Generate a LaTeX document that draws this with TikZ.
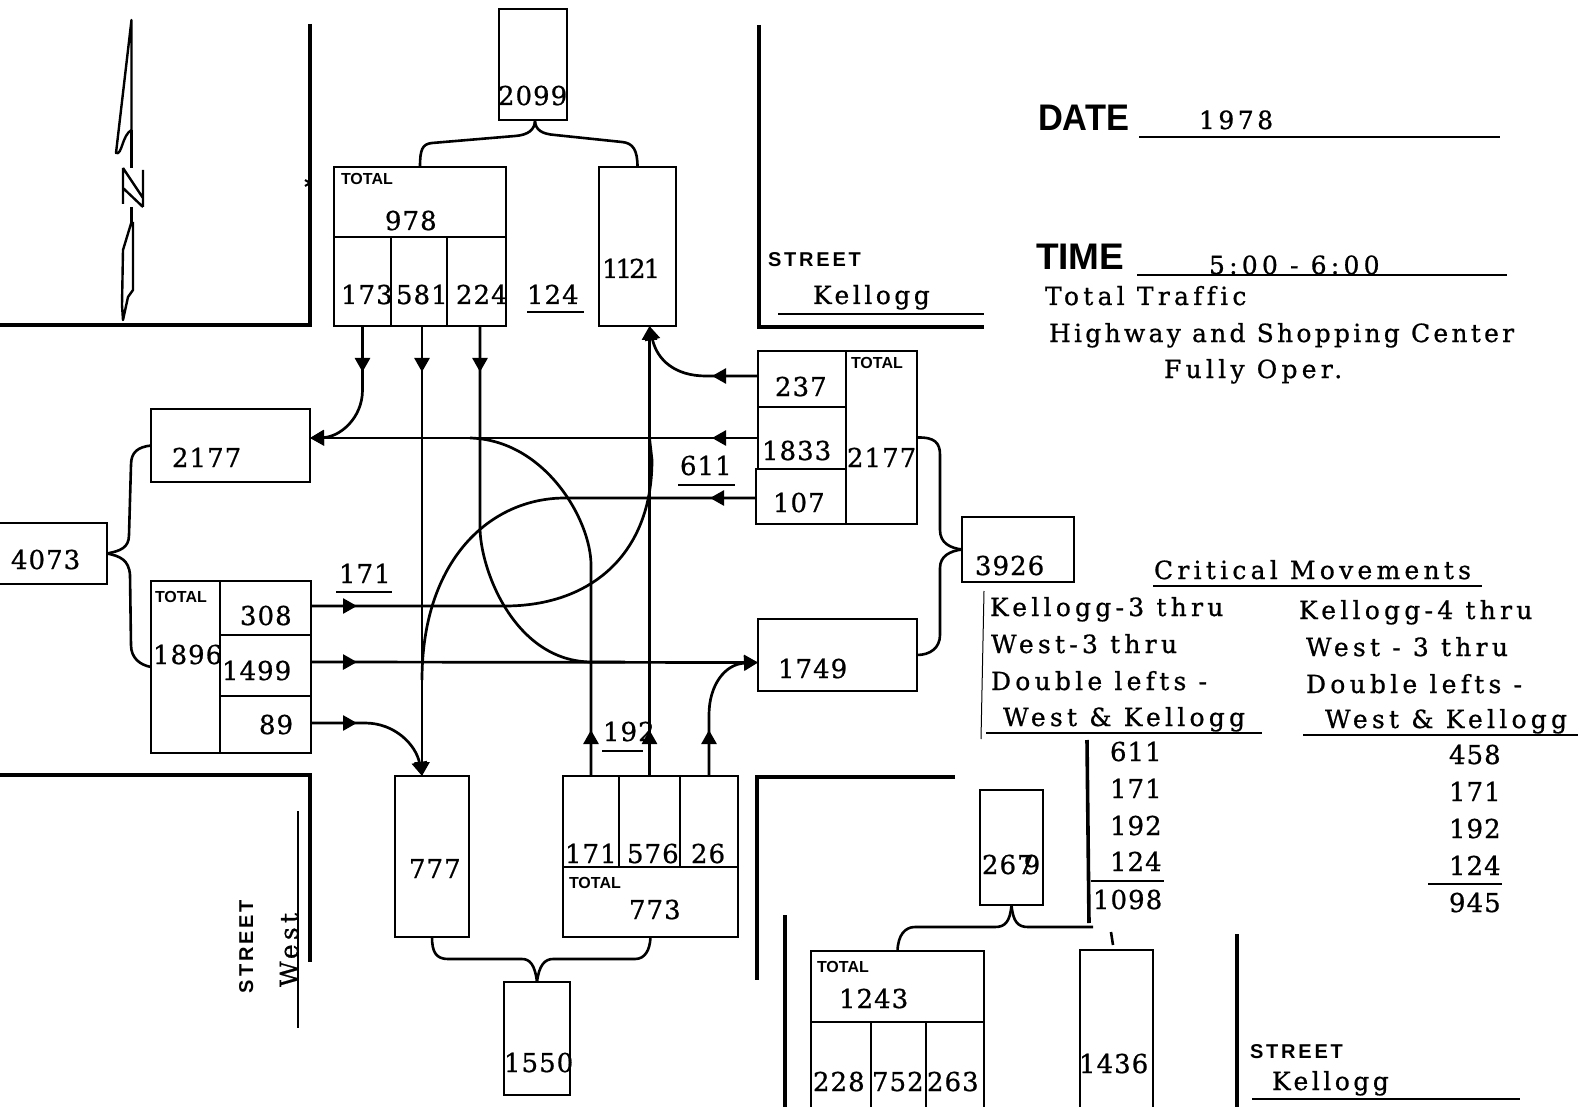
\documentclass[tikz,border=0pt]{standalone}
\usepackage{fontspec}
\usetikzlibrary{arrows.meta,decorations.markings}
\newfontfamily\fnum[LetterSpace=4,FakeBold=0.8]{DejaVu Serif}
\newfontfamily\ftxt[LetterSpace=14,FakeBold=0.8,Ligatures=NoCommon]{DejaVu Serif}
\newfontfamily\ftxtw[LetterSpace=17,FakeBold=0.8,Ligatures=NoCommon]{DejaVu Serif}
\newfontfamily\ftxtn[LetterSpace=13,FakeBold=0.8,Ligatures=NoCommon]{DejaVu Serif}
\newfontfamily\fsans[LetterSpace=14]{Liberation Sans}
\newfontfamily\fsanst{Liberation Sans}
\newfontfamily\fsansc[FakeStretch=0.93]{Liberation Sans}
\tikzset{
  boxn/.style={draw=black,line width=2.4pt,inner sep=0pt,outer sep=0pt},
  numlab/.style={inner sep=0pt,outer sep=0pt,anchor=base west,font=\fontsize{26}{26}\selectfont\fnum},
  txtlab/.style={inner sep=0pt,outer sep=0pt,anchor=base west,font=\fontsize{25}{25}\selectfont\ftxt},
  txtwlab/.style={txtlab,font=\fontsize{25}{25}\selectfont\ftxtw},
  txtnlab/.style={txtlab,font=\fontsize{25}{25}\selectfont\ftxtn},
  totlab/.style={inner sep=0pt,outer sep=0pt,anchor=base west,font=\fontsize{16}{16}\selectfont\fsanst\bfseries},
  strlab/.style={inner sep=0pt,outer sep=0pt,anchor=base west,font=\fontsize{20}{20}\selectfont\fsans\bfseries},
  biglab/.style={inner sep=0pt,outer sep=0pt,anchor=base west,font=\fontsize{37}{37}\selectfont\fsanst\bfseries},
  bigclab/.style={inner sep=0pt,outer sep=0pt,anchor=base west,font=\fontsize{37}{37}\selectfont\fsansc\bfseries},
  street/.style={line width=4.4pt},
  ulined/.style={line width=2.6pt},
  flow/.style={line width=2.7pt},
  headend/.style={-{Triangle[length=14pt,width=15pt]}},
  headat/.style={postaction={decorate},decoration={markings,mark=at position #1 with {\arrow{Triangle[length=14pt,width=15pt]}}}},
  brace/.style={line width=2.6pt}
}
\newcommand\cellbox[5]{\node[boxn,minimum width={(#4-#2)*1pt},minimum height={(#5-#3)*1pt}] (#1) at ({(#2+#4)/2},{(#3+#5)/2}) {};}
\newcommand\nm[4]{\node[numlab] (#1) at (#2,{#3-2}) {#4};}
\newcommand\tx[4]{\node[txtlab] (#1) at (#2,#3) {#4};}
\newcommand\txw[4]{\node[txtwlab] (#1) at (#2,#3) {#4};}
\newcommand\tot[3]{\node[totlab] (#1) at (#2,#3) {TOTAL};}
\begin{document}
\begin{tikzpicture}[x=1pt,y=-1pt]
\useasboundingbox (0,0) rectangle (1580,1107);
\clip (0,0) rectangle (1580,1107);
\fill[white] (0,0) rectangle (1580,1107);
% streets
\draw[street] (310,24) -- (310,325) -- (0,325);
\draw[line width=2pt] (305,180) -- (310,183) -- (305,186);
\draw[street] (759,25) -- (759,327) -- (984,327);
\draw[ulined] (778,314) -- (984,314);
\draw[street] (0,775) -- (310,775) -- (310,962);
\draw[street] (955,777) -- (757,777) -- (757,980);
\draw[street] (785,915) -- (785,1107);
\draw[street] (1237,934) -- (1237,1107);
\draw[line width=1.8pt] (298,811) -- (298,1028);
% north arrow
\draw[line width=2.4pt,line join=round] (131.5,20) -- (116,153) .. controls (122,156) and (122,135) .. (131.5,130) -- cycle;
\draw[line width=2.4pt] (131.5,130) -- (131.5,168);
\draw[line width=2.4pt] (123,168) -- (123,204) (143,170) -- (143,207) (123,168) -- (143,198) (123,188) -- (143,207);
\draw[line width=2.4pt] (131.5,207) -- (131.5,222);
\draw[line width=2.4pt,line join=round] (131.5,222) -- (123,250) -- (122,305) -- (123,320) -- (128,297) -- (133,290) -- (133,222);
% north approach
\cellbox{b2099}{499}{9}{567}{120}
\cellbox{c978}{334}{167}{506}{237}
\cellbox{c173}{334}{237}{391}{326}
\cellbox{c581}{391}{237}{447}{326}
\cellbox{c224}{447}{237}{506}{326}
\cellbox{b1121}{599}{167}{676}{326}
% east approach
\cellbox{c237}{758}{351}{846}{407}
\cellbox{c1833}{758}{407}{846}{469}
\cellbox{c107}{756}{469}{846}{524}
\cellbox{c2177e}{846}{351}{917}{524}
\cellbox{b1749}{758}{619}{917}{691}
\cellbox{b3926}{962}{517}{1074}{582}
% west approach
\cellbox{b2177w}{151}{409}{310}{482}
\cellbox{b4073}{-10}{523}{107}{584}
\cellbox{c1896}{151}{581}{220}{753}
\cellbox{c308}{220}{581}{311}{635}
\cellbox{c1499}{220}{635}{311}{696}
\cellbox{c89}{220}{696}{311}{753}
% south approach
\cellbox{b777}{395}{776}{469}{937}
\cellbox{c171b}{563}{776}{619}{867}
\cellbox{c576}{619}{776}{680}{867}
\cellbox{c26}{680}{776}{738}{867}
\cellbox{c773}{563}{867}{738}{937}
\cellbox{b1550}{504}{982}{570}{1095}
% lower right
\cellbox{b267}{980}{790}{1043}{905}
\cellbox{c1243}{811}{951}{984}{1022}
\cellbox{c228}{811}{1022}{871}{1130}
\cellbox{c752}{871}{1022}{926}{1130}
\cellbox{c263}{926}{1022}{984}{1130}
\cellbox{b1436}{1080}{950}{1153}{1130}
% flows
\draw[flow,headend,headat=46pt] (c173.south) -- (362.5,390) .. controls (362.5,418) and (340,437) .. ([yshift=7.5pt]b2177w.east);
\draw[flow,headend,headat=46pt] ([xshift=3pt]c581.south) -- ([xshift=-10pt]b777.north);
\draw[flow,headat=46pt] ([xshift=3.5pt]c224.south) -- (480,527) .. controls (480,570) and (515,662) .. (592,662) -- (625,662);
\draw[flow,headend,headat=46pt] (c1833.west) -- ([yshift=7.5pt]b2177w.east);
\draw[flow,headat=46pt] (c171b.north) -- (591,565) .. controls (591,520) and (545,440) .. (470,438);
\draw[flow,headend,headat=46pt] (c576.north) -- ([xshift=12pt]b1121.south);
\draw[flow,headend,headat=46pt] ([yshift=3pt]c237.west) -- (706,376) .. controls (675,376) and (657,360) .. ([xshift=12pt]b1121.south);
\draw[flow,headat=46pt] ([yshift=-1.5pt]c107.west) -- (565,498) .. controls (490,498) and (422,560) .. (422,680);
\draw[flow,headat=46pt] ([yshift=2pt]c308.east) -- (505,606) .. controls (590,606) and (652,555) .. (652,460) -- (649.5,438);
\draw[flow,headend,headat=46pt] ([yshift=3.5pt]c1499.east) -- ([yshift=-7.5pt]b1749.west);
\draw[flow,headend,headat=46pt] ([yshift=1.5pt]c89.east) -- (365,723) .. controls (395,723) and (416,745) .. ([xshift=-10pt]b777.north);
\draw[flow,headend,headat=46pt] (c26.north) -- (709,715) .. controls (709,685) and (725,664) .. ([yshift=-7.5pt]b1749.west);
% braces
\draw[brace] ([xshift=2pt]b2099.south) .. controls (535,130) and (528,135) .. (515,136) -- (432,143) .. controls (422,144) and (420,150) .. (c978.north);
\draw[brace] ([xshift=2pt]b2099.south) .. controls (535,130) and (542,134) .. (555,135) -- (622,142) .. controls (633,143) and (637.5,150) .. (b1121.north);
\draw[brace] (b2177w.west) .. controls (138,447) and (131,452) .. (131,465) -- (129,535) .. controls (129,548) and (120,551) .. (b4073.east);
\draw[brace] (b4073.east) .. controls (120,556) and (129,560) .. (130,575) -- (131,645) .. controls (131,658) and (140,665) .. (c1896.west);
\draw[brace] (c2177e.east) .. controls (935,437) and (940,443) .. (940,455) -- (940,530) .. controls (940,543) and (950,548) .. (b3926.west);
\draw[brace] (b3926.west) .. controls (950,551) and (940,556) .. (940,568) -- (940,635) .. controls (940,648) and (930,655) .. (b1749.east);
\draw[brace] (b777.south) .. controls (432,952) and (436,959) .. (448,959) -- (522,959) .. controls (530,959) and (535,965) .. (b1550.north);
\draw[brace] (b1550.north) .. controls (539,965) and (545,959) .. (553,959) -- (635,959) .. controls (645,959) and (650,950) .. (c773.south);
\draw[brace] (c1243.north) .. controls (898,935) and (905,927) .. (915,927) -- (995,927) .. controls (1005,927) and (1010,922) .. (b267.south);
\coordinate (e267) at (1093,927);
\draw[brace] (b267.south) .. controls (1013,922) and (1018,927) .. (1028,927) -- (e267);
\coordinate (m1436) at (1111,932);
\draw[brace] (m1436) -- (1113,945);
% number labels
\nm{t2099}{498}{107}{2099}
\tot{tt978}{341}{185}
\nm{t978}{385}{232}{978}
\nm{t173}{341}{306}{173}
\nm{t581}{396}{306}{581}
\nm{t224}{456}{306}{224}
\nm{t124}{527}{306}{124}
\nm{t1121}{602}{280}{1\kern-3pt 1\kern-3pt 2\kern-2pt 1}
\nm{t237}{775}{398}{237}
\tot{tt2177}{851}{368}
\nm{t1833}{762}{462}{1833}
\nm{t2177e}{847}{469}{2177}
\nm{t107}{773}{514}{107}
\nm{t611}{680}{477}{611}
\nm{t2177w}{172}{469}{2177}
\nm{t4073}{11}{571}{4073}
\nm{t3926}{975}{577}{3926}
\nm{t1749}{778}{680}{1749}
\tot{tt1896}{155}{602}
\nm{t308}{240}{627}{308}
\nm{t1896}{153}{666}{1896}
\nm{t1499}{222}{682}{1499}
\nm{t89}{259}{736}{89}
\nm{t171a}{339}{585}{171}
\nm{t192a}{603}{743}{192}
\nm{t777}{409}{880}{777}
\nm{t171b}{565}{865}{171}
\nm{t576}{627}{865}{576}
\nm{t26}{691}{865}{26}
\tot{tt773}{569}{888}
\nm{t773}{629}{921}{773}
\nm{t1550}{504}{1074}{1550}
\nm{t267}{982}{876}{267\kern-10pt 9}
\tot{tt1243}{817}{972}
\nm{t1243}{839}{1010}{1243}
\nm{t228}{813}{1093}{228}
\nm{t752}{872}{1093}{752}
\nm{t263}{927}{1093}{263}
\nm{t1436}{1079}{1075}{1436}
% underlines of labels
\draw[ulined] (527,312) -- (584,312);
\draw[ulined] (678,485) -- (735,485);
\draw[ulined] (336,592) -- (392,592);
\draw[ulined] (602,751) -- (643,751);
% street names
\node[strlab] (snk) at (768,267) {STREET};
\tx{kel1}{813}{304}{Kellogg}
\node[strlab] (ss) at (1250,1058) {STREET};
\tx{kel2}{1272}{1090}{Kellogg}
\draw[ulined] (1252,1099) -- (1520,1099);
\node[strlab,rotate=90] (sw) at (253,993) {STREET};
\node[txtwlab,rotate=90] (west) at (298,987) {West};
% header
\node[bigclab] (dd) at (1038,131) {DATE};
\tx{d78}{1199}{129}{1978}
\draw[line width=2pt] (1139,137) -- (1500,137);
\node[biglab] (tt) at (1036,270) {TIME};
\txw{t56}{1209}{274}{5:00 - 6:00}
\draw[line width=2pt] (1137,275) -- (1507,275);
\txw{h1}{1045}{305}{Total Traffic}
\node[txtnlab] (h2) at (1049,342) {Highway and Shopping Center};
\txw{h3}{1164}{378}{Fully Oper.}
% critical movements
\txw{cm}{1154}{579}{Critical Movements}
\draw[ulined] (1153,586) -- (1482,586);
\draw[line width=1pt] (984,591) -- (981,739);
\txw{l1}{990}{616}{Kellogg-3 thru}
\txw{l2}{991}{653}{West-3 thru}
\txw{l3}{991}{690}{Double lefts -}
\txw{l4}{1003}{726}{West \& Kellogg}
\draw[ulined] (986,733) -- (1262,733);
\txw{r1}{1299}{619}{Kellogg-4 thru}
\txw{r2}{1306}{656}{West - 3 thru}
\txw{r3}{1306}{693}{Double lefts -}
\txw{r4}{1325}{728}{West \& Kellogg}
\draw[ulined] (1303,735) -- (1578,735);
\draw[line width=3.6pt] (1087,740) -- (1089,923);
\nm{a1}{1110}{763}{611}
\nm{a2}{1110}{800}{171}
\nm{a3}{1110}{837}{192}
\nm{a4}{1110}{873}{124}
\draw[ulined] (1091,881) -- (1164,881);
\nm{a5}{1093}{911}{1098}
\nm{b1}{1449}{766}{458}
\nm{b2}{1449}{803}{171}
\nm{b3}{1449}{840}{192}
\nm{b4}{1449}{877}{124}
\draw[ulined] (1428,884) -- (1502,884);
\nm{b5}{1449}{914}{945}
\end{tikzpicture}
\end{document}
